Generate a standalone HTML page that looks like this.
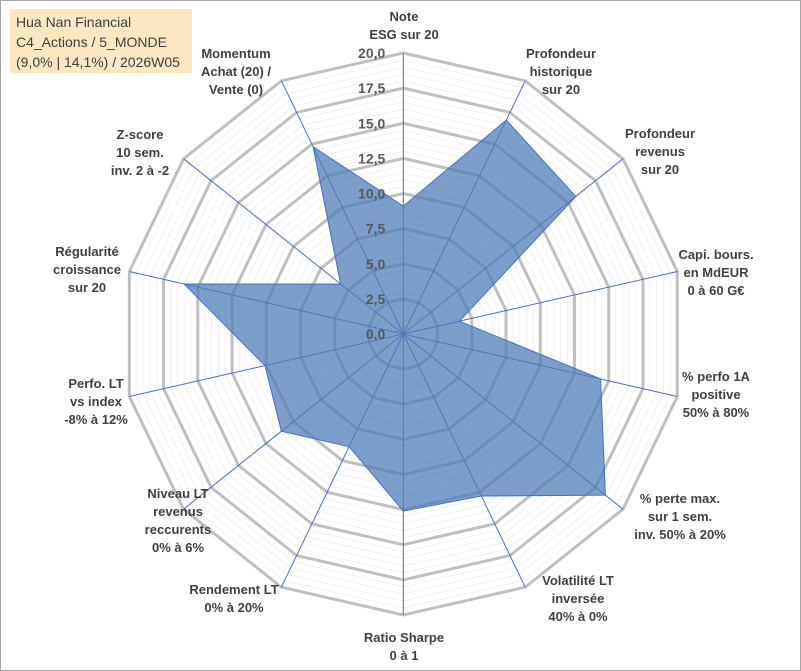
<!DOCTYPE html>
<html><head><meta charset="utf-8"><style>
body{margin:0;background:#fff;}
svg{display:block;font-family:"Liberation Sans",sans-serif;}
.lbl{font-weight:bold;font-size:13px;fill:#404040;text-anchor:middle;}
.tick{font-weight:bold;font-size:14px;fill:#595959;text-anchor:end;}
</style></head><body>
<svg id="chart" width="801" height="671" viewBox="0 0 801 671">
<rect x="0.5" y="0.5" width="800" height="670" fill="#fff" stroke="#a6a6a6"/>
<g>
<rect x="10" y="9" width="182" height="64" fill="#fce8c0"/>
<text x="16" y="27" font-size="14" fill="#404040">Hua Nan Financial</text>
<text x="16" y="47" font-size="14" fill="#404040">C4_Actions / 5_MONDE</text>
<text x="16" y="67" font-size="14" fill="#404040">(9,0% | 14,1%) / 2026W05</text>
</g>
<g id="grid"></g><g id="axes"></g><g id="series"></g><g id="ticks"></g><g id="labels"></g>
</svg>
<script>
const categories=[["Note","ESG sur 20"],["Profondeur","historique","sur 20"],["Profondeur","revenus","sur 20"],["Capi. bours.","en MdEUR","0 à 60 G€"],["% perfo 1A","positive","50% à 80%"],["% perte max.","sur 1 sem.","inv. 50% à 20%"],["Volatilité LT","inversée","40% à 0%"],["Ratio Sharpe","0 à 1"],["Rendement LT","0% à 20%"],["Niveau LT","revenus","reccurents","0% à 6%"],["Perfo. LT","vs index","-8% à 12%"],["Régularité","croissance","sur 20"],["Z-score","10 sem.","inv. 2 à -2"],["Momentum","Achat (20) /","Vente (0)"]];
const values=[9.1,16.9,15.7,4.1,14.4,18.4,12.8,12.6,8.9,11.1,10.1,16,5.7,14.8];
const tickLabels=["0,0","2,5","5,0","7,5","10,0","12,5","15,0","17,5","20,0"];
const tickValues=[0,2.5,5,7.5,10,12.5,15,17.5,20];
const labelPos=[[404,16],[561,53],[660,133],[716,254],[716,376],[680,498],[578,580],[404,637],[234,589],[178,493],[96,383],[87,251],[140,134],[236,53]];
const NS="http://www.w3.org/2000/svg";
const cx=403.3,cy=334,R=281,maxV=20,N=categories.length;
function rr(v){return v/maxV*R;}
function pt(i,v){const a=2*Math.PI*i/N;return [cx+rr(v)*Math.sin(a),cy-rr(v)*Math.cos(a)];}
function mk(tag,attrs,parent){const e=document.createElementNS(NS,tag);for(const k in attrs)e.setAttribute(k,attrs[k]);parent.appendChild(e);return e;}
const grid=document.getElementById('grid');
for(let v=0.5;v<=20.001;v+=0.5){
  const major=Math.abs(v/2.5-Math.round(v/2.5))<1e-6;
  const p=[];for(let i=0;i<N;i++)p.push(pt(i,v).join(','));
  const e=mk('polygon',{points:p.join(' '),fill:'none',stroke:major?'#bfbfbf':'#f0f0f0','stroke-width':major?3:1},grid);
  
  
}
const axes=document.getElementById('axes');
for(let i=0;i<N;i++){const [x,y]=pt(i,maxV);
  const e=mk('line',{x1:cx,y1:cy,x2:x,y2:y,stroke:'#4472c4','stroke-width':1},axes);
  
  
}
const ser=document.getElementById('series');
const poly=mk('polygon',{points:values.map((v,i)=>pt(i,v).join(',')).join(' '),fill:'#4f7fb8','fill-opacity':0.75,stroke:'#4472c4','stroke-width':1},ser);


const ticks=document.getElementById('ticks');
tickValues.forEach((v,k)=>{const t=mk('text',{x:cx-18,y:cy-rr(v)+5,class:'tick'},ticks);t.textContent=tickLabels[k];
  
  });
const labels=document.getElementById('labels');
categories.forEach((lines,i)=>{const g=mk('text',{class:'lbl'},labels);
  
  
  lines.forEach((s,j)=>{const ts=mk('tspan',{x:labelPos[i][0],y:labelPos[i][1]+5+j*18},g);ts.textContent=s;});});
</script>
</body></html>
